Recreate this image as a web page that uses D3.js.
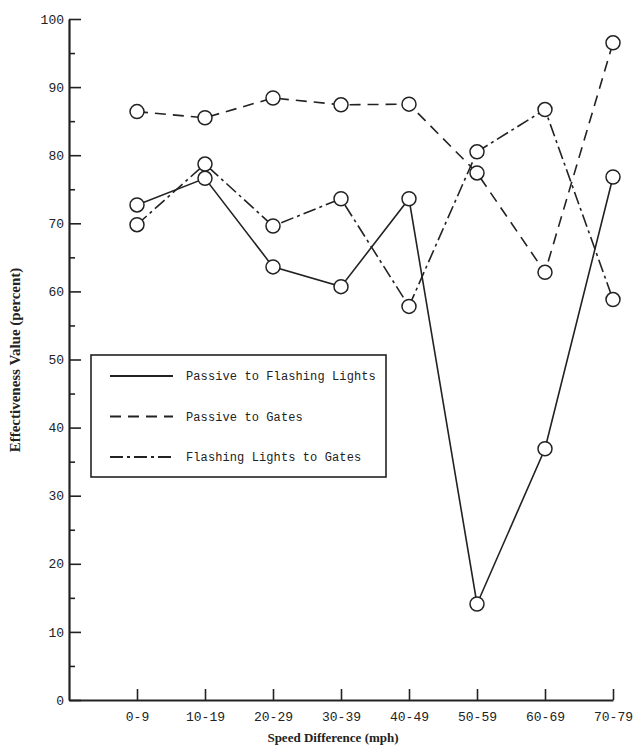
<!DOCTYPE html>
<html>
<head>
<meta charset="utf-8">
<script src="https://cdn.jsdelivr.net/npm/d3@7"></script>
<style>
    body { margin: 0; background: #fff; }
    svg text { fill: #222; }
</style>
</head>
<body>
<svg id="chart"></svg>
<script>
// values
const categories = ["0-9", "10-19", "20-29", "30-39", "40-49", "50-59", "60-69", "70-79"];
const passiveToFlashing = [72.7, 76.6, 63.6, 60.7, 73.6, 14.1, 36.9, 76.8];
const passiveToGates = [86.4, 85.5, 88.4, 87.4, 87.5, 77.4, 62.8, 96.5];
const flashingToGates = [69.8, 78.7, 69.6, 73.6, 57.8, 80.5, 86.7, 58.8];
const yMajorTicks = [0, 10, 20, 30, 40, 50, 60, 70, 80, 90, 100];
const yMinorTicks = [5, 15, 25, 35, 45, 55, 65, 75, 85, 95];

const seriesList = [
    { name: "Passive to Flashing Lights", values: passiveToFlashing, dash: null },
    { name: "Passive to Gates", values: passiveToGates, dash: "11,7" },
    { name: "Flashing Lights to Gates", values: flashingToGates, dash: "13,4,3,4" }
];

const width = 634, height = 749;
const plot = { left: 69, right: 613, top: 19, bottom: 700 };
const ink = "#222";

const svg = d3.select("#chart").attr("width", width).attr("height", height);

// category i sits at index i+1, the y axis is index 0
const xScale = d3.scaleLinear().domain([0, categories.length]).range([plot.left, plot.right]);
const yScale = d3.scaleLinear().domain([0, 100]).range([plot.bottom, plot.top]);

// y axis, ticks pointing into the plot
const yAxis = svg.append("g")
    .attr("transform", `translate(${plot.left},0)`)
    .call(d3.axisLeft(yScale).tickValues(yMajorTicks).tickSizeInner(-12).tickSizeOuter(0).tickPadding(5));
yAxis.selectAll("text").style("font-family", "'Liberation Mono', monospace").style("font-size", "13px");

svg.append("g")
    .attr("transform", `translate(${plot.left},0)`)
    .call(d3.axisLeft(yScale).tickValues(yMinorTicks).tickSizeInner(-6).tickSizeOuter(0).tickFormat(""))
    .select(".domain").remove();

// x axis, ticks pointing up
const xAxis = svg.append("g")
    .attr("transform", `translate(0,${plot.bottom})`)
    .call(d3.axisBottom(xScale)
        .tickValues(d3.range(1, categories.length + 1))
        .tickFormat(i => categories[i - 1])
        .tickSizeInner(-11).tickSizeOuter(0).tickPadding(12));
xAxis.selectAll("text").style("font-family", "'Liberation Mono', monospace").style("font-size", "13px");

svg.selectAll(".domain, .tick line").attr("stroke", ink).attr("stroke-width", 1.6);
svg.selectAll(".domain").attr("stroke-width", 2.2);

// axis titles
svg.append("text")
    .attr("transform", "translate(20,360) rotate(-90)")
    .attr("text-anchor", "middle")
    .style("font-family", "'Liberation Serif', serif")
    .style("font-weight", "bold")
    .style("font-size", "15px")
    .text("Effectiveness Value (percent)");

svg.append("text")
    .attr("x", 333).attr("y", 742)
    .attr("text-anchor", "middle")
    .style("font-family", "'Liberation Serif', serif")
    .style("font-weight", "bold")
    .style("font-size", "13px")
    .text("Speed Difference (mph)");

// lines
const line = d3.line()
    .x((d, i) => xScale(i + 1))
    .y(d => yScale(d));

svg.selectAll(".series")
    .data(seriesList)
    .join("path")
    .attr("class", "series")
    .attr("d", d => line(d.values))
    .attr("fill", "none")
    .attr("stroke", ink)
    .attr("stroke-width", 1.6)
    .attr("stroke-dasharray", d => d.dash);

// open circle markers
seriesList.forEach(s => {
    svg.append("g").selectAll("circle")
        .data(s.values)
        .join("circle")
        .attr("cx", (d, i) => xScale(i + 1))
        .attr("cy", d => yScale(d))
        .attr("r", 7)
        .attr("fill", "#fff")
        .attr("stroke", ink)
        .attr("stroke-width", 1.5);
});

// legend
const legend = svg.append("g").attr("transform", "translate(91,355)");
legend.append("rect")
    .attr("width", 295).attr("height", 122)
    .attr("fill", "#fff")
    .attr("stroke", ink)
    .attr("stroke-width", 1.6);

const rows = legend.selectAll(".row")
    .data(seriesList)
    .join("g")
    .attr("class", "row")
    .attr("transform", (d, i) => `translate(0,${21 + i * 40.5})`);

rows.append("line")
    .attr("x1", 19).attr("x2", 82)
    .attr("stroke", ink)
    .attr("stroke-width", 1.8)
    .attr("stroke-dasharray", d => d.dash);

rows.append("text")
    .attr("x", 95).attr("dy", "0.35em")
    .style("font-family", "'Liberation Mono', monospace")
    .style("font-size", "12px")
    .style("letter-spacing", "0.1px")
    .text(d => d.name);
</script>
</body>
</html>
